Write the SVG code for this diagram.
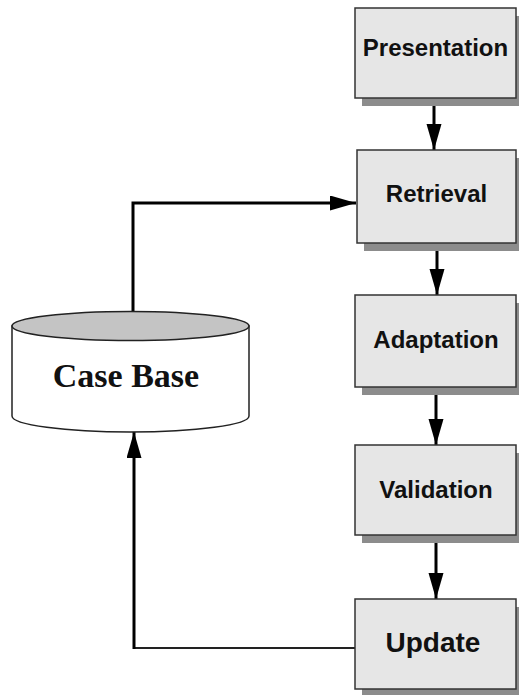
<svg xmlns="http://www.w3.org/2000/svg" width="519" height="695" viewBox="0 0 519 695">
<style>
.shadow{fill:#8c8c8c;stroke:none}
.box{fill:#e6e6e6;stroke:#333;stroke-width:1.5}
.lbl{font-family:"Liberation Sans",Arial,sans-serif;font-weight:bold;font-size:24px;fill:#111;text-anchor:middle}
.conn{fill:none;stroke:#000;stroke-width:3}
</style>
<defs>
<marker id="ah" markerUnits="userSpaceOnUse" markerWidth="27" markerHeight="16" refX="26" refY="7.5" orient="auto">
<path d="M0,0 L26,7.5 L0,15 z" fill="#000"/>
</marker>
</defs>
<rect width="519" height="695" fill="#fff"/>
<g id="connectors">
<path class="conn" d="M434,98 V150" marker-end="url(#ah)"/>
<path class="conn" d="M437,243 V295" marker-end="url(#ah)"/>
<path class="conn" d="M436,387 V445" marker-end="url(#ah)"/>
<path class="conn" d="M436,535 V599" marker-end="url(#ah)"/>
<path class="conn" d="M133,311 V203 H356" marker-end="url(#ah)"/>
<path fill="none" stroke="#222" stroke-width="2" d="M355,648 H134"/>
<path class="conn" d="M134,649 V432" marker-end="url(#ah)"/>
</g>
<g id="casebase">
<path d="M12,326 L12,416 A118.5,16 0 0 0 249,416 L249,326 z" fill="#fff" stroke="#222" stroke-width="1.5"/>
<ellipse cx="130.5" cy="326" rx="118.5" ry="14.5" fill="#c4c4c4" stroke="#222" stroke-width="1.5"/>
<text x="126" y="387" font-family="'Liberation Serif','Times New Roman',serif" font-weight="bold" font-size="34" fill="#111" text-anchor="middle">Case Base</text>
</g>
<g id="presentation">
<rect class="shadow" x="362" y="16" width="161" height="90"/>
<rect class="box" x="355" y="8" width="161" height="90"/>
<text class="lbl" x="435.5" y="56">Presentation</text>
</g>
<g id="retrieval">
<rect class="shadow" x="364" y="158" width="161" height="93"/>
<rect class="box" x="357" y="150" width="159" height="93"/>
<text class="lbl" x="436.5" y="202">Retrieval</text>
</g>
<g id="adaptation">
<rect class="shadow" x="362" y="303" width="161" height="92"/>
<rect class="box" x="355" y="295" width="161" height="92"/>
<text class="lbl" x="436" y="348">Adaptation</text>
</g>
<g id="validation">
<rect class="shadow" x="362" y="453" width="161" height="90"/>
<rect class="box" x="355" y="445" width="161" height="90"/>
<text class="lbl" x="436" y="498">Validation</text>
</g>
<g id="update">
<rect class="shadow" x="362" y="607" width="161" height="90"/>
<rect class="box" x="355" y="599" width="161" height="90"/>
<text class="lbl" x="433" y="652" style="font-size:28px">Update</text>
</g>
</svg>
